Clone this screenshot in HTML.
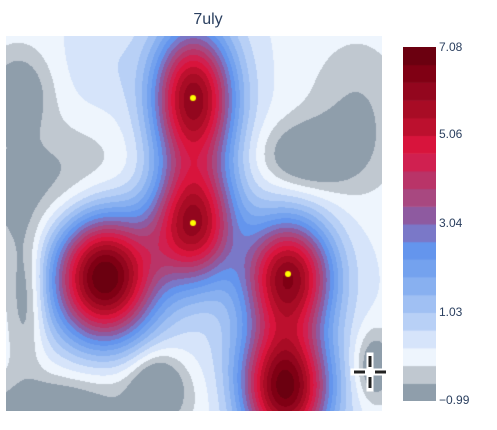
<!DOCTYPE html>
<html><head><meta charset="utf-8">
<style>
html,body{margin:0;padding:0;background:#fff;width:497px;height:430px;overflow:hidden;font-family:"Liberation Sans",sans-serif}
#title{position:absolute;left:0;width:416px;top:11px;text-align:center;font-size:16px;color:#2a3f5f}
canvas{position:absolute}
.tick{position:absolute;left:439px;font-size:12px;color:#2a3f5f}
</style></head><body>
<div id="title">7uly</div>
<canvas id="plot" width="376" height="375" style="left:6px;top:36px"></canvas>
<canvas id="cbar" width="33" height="354" style="left:403px;top:47px"></canvas>
<div class="tick" style="top:40px">7.08</div>
<div class="tick" style="top:127px">5.06</div>
<div class="tick" style="top:216px">3.04</div>
<div class="tick" style="top:305px">1.03</div>
<div class="tick" style="top:393px">−0.99</div>
<svg style="position:absolute;left:350px;top:352px" width="40" height="40">
<g stroke="#fff" stroke-width="7" stroke-linecap="square"><line x1="20" y1="4" x2="20" y2="36"/><line x1="4" y1="20" x2="36" y2="20"/></g>
<g stroke="#222" stroke-width="3"><line x1="20" y1="4" x2="20" y2="15"/><line x1="20" y1="25" x2="20" y2="36"/><line x1="4" y1="20" x2="15" y2="20"/><line x1="25" y1="20" x2="36" y2="20"/></g>
</svg>
<script>
const zMin = -0.99, zMax = 7.08;
const bandColors = ["#8f9eab","#c0c8d0","#eef5fd","#d6e4fa","#b8d0f6","#a0c0f3","#88b0f0","#74a2ee","#6495ed","#7a78c8","#8e5aa0","#a84880","#b93468","#d02050","#d8143c","#bc102e","#a80c25","#93061e","#800014","#6b0010"];
// peaks: pixel coords in plot area, amplitude, sigmas
const peakX = [187, 187, 98, 282, 279];
const peakY = [62, 187, 240, 239, 352];
const peakAmp = [6.0, 5.6, 7.0, 5.9, 6.6];
const peakSx = [29, 29, 36, 31, 31];
const peakSy = [50, 42, 46, 40, 44];
const markX = [187, 187, 282];
const markY = [62, 187, 238];
// background bumps
const bgX = [12, 20, 70, 300, 350, 368, 40, 150, 100, 95, 240, 0];
const bgY = [55, 260, 150, 120, 80, 330, 375, 350, 360, 25, 320, 170];
const bgAmp = [-1.2, -1.2, -0.9, -1.4, -0.8, -1.4, -1.2, -1.4, -0.7, 0.4, 0.3, -0.5];
const bgSx = [22, 13, 55, 32, 35, 14, 38, 18, 80, 25, 40, 40];
const bgSy = [30, 45, 40, 24, 55, 25, 18, 24, 30, 35, 40, 60];
const base = 0.15;
function field(x,y){
  let v=base;
  for(let i=0;i<peakX.length;i++){const dx=(x-peakX[i])/peakSx[i],dy=(y-peakY[i])/peakSy[i];v+=peakAmp[i]*Math.exp(-(dx*dx+dy*dy)/2);}
  for(let i=0;i<bgX.length;i++){const dx=(x-bgX[i])/bgSx[i],dy=(y-bgY[i])/bgSy[i];v+=bgAmp[i]*Math.exp(-(dx*dx+dy*dy)/2);}
  return v;
}
function hex(c){return [parseInt(c.slice(1,3),16),parseInt(c.slice(3,5),16),parseInt(c.slice(5,7),16)];}
const rgb=bandColors.map(hex);
const nb=bandColors.length, step=(zMax-zMin)/nb;
function band(v){let k=Math.floor((v-zMin)/step);return Math.max(0,Math.min(nb-1,k));}
const pc=document.getElementById('plot'),ctx=pc.getContext('2d');
const W=pc.width,H=pc.height,img=ctx.createImageData(W,H);
for(let y=0;y<H;y++)for(let x=0;x<W;x++){const c=rgb[band(field(x,y))],o=(y*W+x)*4;img.data[o]=c[0];img.data[o+1]=c[1];img.data[o+2]=c[2];img.data[o+3]=255;}
ctx.putImageData(img,0,0);
ctx.fillStyle="#ffff00";
for(let i=0;i<markX.length;i++){ctx.beginPath();ctx.arc(markX[i],markY[i],3,0,Math.PI*2);ctx.fill();}
const cb=document.getElementById('cbar'),cx=cb.getContext('2d');
const bh=cb.height/nb;
for(let i=0;i<nb;i++){cx.fillStyle=bandColors[i];cx.fillRect(0,cb.height-(i+1)*bh,cb.width,bh+0.5);}
</script>
</body></html>
